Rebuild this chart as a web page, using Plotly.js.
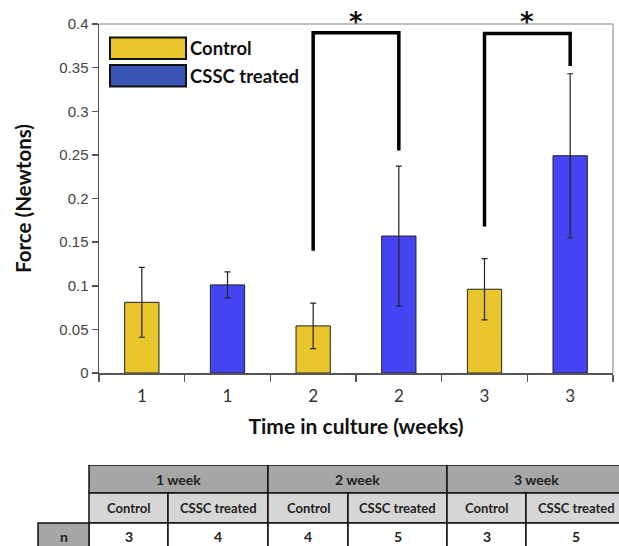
<!DOCTYPE html>
<html>
<head>
<meta charset="utf-8">
<script src="https://cdn.plot.ly/plotly-3.0.1.min.js"></script>
<style>html,body{margin:0;padding:0;background:#fff;} #chart{width:619px;height:546px;}</style>
</head>
<body>
<div id="chart"></div>
<script>
// ---------- data ----------
const tickLabels = ['1', '1', '2', '2', '3', '3'];
const controlIdx = [0, 2, 4];
const controlValues = [0.081, 0.054, 0.096];
const controlErrors = [0.040, 0.026, 0.035];
const treatedIdx = [1, 3, 5];
const treatedValues = [0.101, 0.157, 0.249];
const treatedErrors = [0.015, 0.080, 0.094];
const yTickVals = [0, 0.05, 0.1, 0.15, 0.2, 0.25, 0.3, 0.35, 0.4];
const yTickText = ['0', '0.05', '0.1', '0.15', '0.2', '0.25', '0.3', '0.35', '0.4'];
// significance brackets: [leftIdx, rightIdx, leftBottom, top, rightBottom]
const brackets = [
  [2, 3, 0.140, 0.390, 0.255],
  [4, 5, 0.168, 0.389, 0.352]
];
const weekLabels = ['1 week', '2 week', '3 week'];
const groupLabels = ['Control', 'CSSC treated', 'Control', 'CSSC treated', 'Control', 'CSSC treated'];
const nValues = [3, 4, 4, 5, 3, 5];

// ---------- styles ----------
const YELLOW = '#E8C62C';
const BLUE = '#4444F2';
const LEG_BLUE = '#3B55B6';
const FONT = 'Lato, "Open Sans", sans-serif';
const W = 619, H = 546;
const plotL = 99, plotR = 613, plotT = 24, plotB = 373;

const traces = [
  {
    type: 'bar', name: 'Control', x: controlIdx, y: controlValues, width: 0.4,
    marker: {color: YELLOW, line: {color: '#222', width: 1}},
    error_y: {type: 'data', array: controlErrors, visible: true, color: '#222', thickness: 1.2, width: 3},
    showlegend: false, xaxis: 'x', yaxis: 'y'
  },
  {
    type: 'bar', name: 'CSSC treated', x: treatedIdx, y: treatedValues, width: 0.4,
    marker: {color: BLUE, line: {color: '#222', width: 1}},
    error_y: {type: 'data', array: treatedErrors, visible: true, color: '#222', thickness: 1.2, width: 3},
    showlegend: false, xaxis: 'x', yaxis: 'y'
  }
];

const shapes = [];
const annotations = [];

// plot border top/right (light gray)
shapes.push({type: 'line', xref: 'x domain', yref: 'y domain', x0: 0, x1: 1, y0: 1, y1: 1, line: {color: '#aaaaaa', width: 1.5}});
shapes.push({type: 'line', xref: 'x domain', yref: 'y domain', x0: 1, x1: 1, y0: 0, y1: 1, line: {color: '#aaaaaa', width: 1.5}});

// brackets & asterisks
brackets.forEach(b => {
  shapes.push({type: 'path', xref: 'x', yref: 'y',
    path: `M ${b[0]},${b[2]} L ${b[0]},${b[3]} L ${b[1]},${b[3]} L ${b[1]},${b[4]}`,
    line: {color: '#000', width: 3.5}});
  annotations.push({xref: 'x', yref: 'y', x: (b[0] + b[1]) / 2, y: 0.4, text: '<b>*</b>',
    showarrow: false, yanchor: 'middle', yshift: 2,
    font: {family: '"DejaVu Sans", sans-serif', size: 26, color: '#111'}});
});

// custom legend
const legItems = [['Control', YELLOW], ['CSSC treated', LEG_BLUE]];
legItems.forEach((it, i) => {
  const top = 37.5 + i * 27.5, bot = top + 21.5;
  const fx = p => (p - plotL) / (plotR - plotL);
  const fy = p => (plotB - p) / (plotB - plotT);
  shapes.push({type: 'rect', xref: 'x domain', yref: 'y domain', x0: fx(110), x1: fx(186), y0: fy(bot), y1: fy(top),
    fillcolor: it[1], line: {color: '#111', width: 2}});
  annotations.push({xref: 'x domain', yref: 'y domain', x: fx(188), y: fy((top + bot) / 2), xanchor: 'left', yanchor: 'middle',
    text: '<b>' + it[0] + '</b>', showarrow: false, font: {family: FONT, size: 18.5, color: '#111'}});
});

// ---------- table ----------
const colEdges = [89, 168, 268, 348, 447, 526, 626];
const rowEdges = [465, 493, 523, 556];
const GRAY1 = '#A6A6A6', GRAY2 = '#D6D6D6';
// week header
for (let w = 0; w < 3; w++) {
  const x0 = colEdges[2 * w], x1 = colEdges[2 * w + 2];
  shapes.push({type: 'rect', xref: 'x2', yref: 'y2', x0, x1, y0: rowEdges[0], y1: rowEdges[1], fillcolor: GRAY1, line: {color: '#111', width: 1.5}});
  annotations.push({xref: 'x2', yref: 'y2', x: (x0 + x1) / 2, y: (rowEdges[0] + rowEdges[1]) / 2, text: '<b>' + weekLabels[w] + '</b>',
    showarrow: false, font: {family: FONT, size: 14, color: '#222'}});
}
// group header + n values
for (let c = 0; c < 6; c++) {
  const x0 = colEdges[c], x1 = colEdges[c + 1];
  shapes.push({type: 'rect', xref: 'x2', yref: 'y2', x0, x1, y0: rowEdges[1], y1: rowEdges[2], fillcolor: GRAY2, line: {color: '#111', width: 1.5}});
  annotations.push({xref: 'x2', yref: 'y2', x: (x0 + x1) / 2, y: (rowEdges[1] + rowEdges[2]) / 2, text: '<b>' + groupLabels[c] + '</b>',
    showarrow: false, font: {family: FONT, size: 13, color: '#222'}});
  shapes.push({type: 'rect', xref: 'x2', yref: 'y2', x0, x1, y0: rowEdges[2], y1: rowEdges[3], fillcolor: '#ffffff', line: {color: '#111', width: 1.5}});
  annotations.push({xref: 'x2', yref: 'y2', x: (x0 + x1) / 2, y: 536, text: '<b>' + nValues[c] + '</b>',
    showarrow: false, font: {family: FONT, size: 14, color: '#222'}});
}
shapes.push({type: 'rect', xref: 'x2', yref: 'y2', x0: 38, x1: 89, y0: rowEdges[2], y1: rowEdges[3], fillcolor: GRAY1, line: {color: '#111', width: 1.5}});
annotations.push({xref: 'x2', yref: 'y2', x: 63.5, y: 536, text: '<b>n</b>', showarrow: false, font: {family: FONT, size: 14, color: '#222'}});

const layout = {
  width: W, height: H,
  margin: {l: 0, r: 0, t: 0, b: 0},
  paper_bgcolor: '#ffffff', plot_bgcolor: '#ffffff',
  showlegend: false,
  barmode: 'overlay',
  xaxis: {
    domain: [plotL / W, plotR / W], range: [-0.5, 5.5], anchor: 'y',
    tickmode: 'array', tickvals: tickLabels.map((_, i) => i), ticktext: tickLabels,
    ticks: '', showgrid: false, zeroline: false,
    showline: true, linecolor: '#555', linewidth: 1.5,
    tickfont: {family: FONT, size: 17, color: '#333'},
    ticklabelstandoff: 7,
    minor: {tickmode: 'array', tickvals: [-0.5, 0.5, 1.5, 2.5, 3.5, 4.5, 5.5], ticks: 'outside', ticklen: 7, tickcolor: '#555', tickwidth: 1.5, showgrid: false},
    title: {text: 'Time in culture (weeks)', font: {family: FONT, size: 21, color: '#111', weight: 'bold'}, standoff: 14},
    fixedrange: true
  },
  yaxis: {
    domain: [(H - plotB) / H, (H - plotT) / H], range: [0, 0.4], anchor: 'x',
    tickmode: 'array', tickvals: yTickVals, ticktext: yTickText,
    ticks: 'outside', ticklen: 6, tickcolor: '#555', tickwidth: 1.5,
    showgrid: false, zeroline: false,
    showline: true, linecolor: '#555', linewidth: 1.5,
    tickfont: {family: 'Liberation Sans, Arial, sans-serif', size: 15, color: '#444'},
    title: {text: 'Force (Newtons)', font: {family: FONT, size: 20.5, color: '#111', weight: 'bold'}, standoff: 22},
    fixedrange: true
  },
  xaxis2: {domain: [0, 1], range: [0, W], anchor: 'y2', visible: false, fixedrange: true},
  yaxis2: {domain: [0, (H - 465) / H], range: [H, 465], anchor: 'x2', visible: false, fixedrange: true},
  shapes: shapes,
  annotations: annotations
};

Plotly.newPlot('chart', traces, layout, {displayModeBar: false, staticPlot: true});
</script>
</body>
</html>
